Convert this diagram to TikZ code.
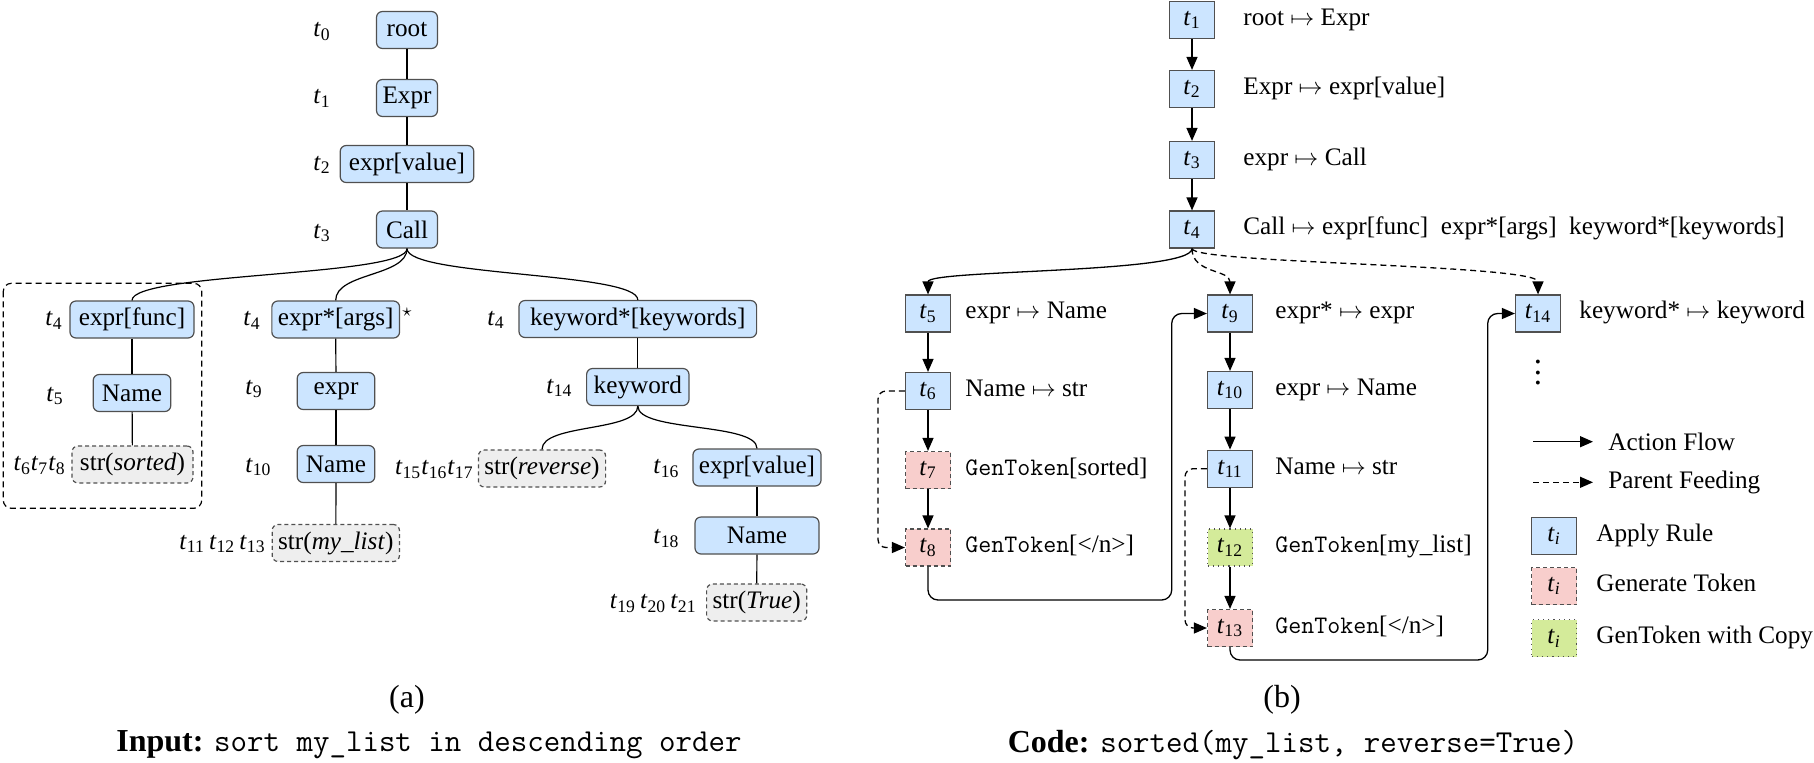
\documentclass[tikz,border=0pt]{standalone}
\usepackage{fontspec}
\setmainfont{Liberation Serif}
\usetikzlibrary{arrows.meta,calc}
\definecolor{rblue}{HTML}{CCE5FF}
\definecolor{rpink}{HTML}{F8CECC}
\definecolor{rgreen}{HTML}{D4EB9A}
\definecolor{rgray}{HTML}{EEEEEE}
\definecolor{rborder}{HTML}{505050}
\newcommand\ts[1]{\textit{t}\textsubscript{#1}}
\tikzset{
  tn/.style={draw=rborder, fill=rblue, rounded corners=3pt, line width=0.6pt, minimum height=18.5pt, inner xsep=3pt, inner ysep=0pt},
  sn/.style={tn, fill=rgray, dash pattern=on 2pt off 1.5pt},
  ab/.style={draw=rborder, fill=rblue, minimum width=22.5pt, minimum height=18.5pt, inner sep=0pt, line width=0.6pt},
  gb/.style={ab, fill=rpink, dash pattern=on 2pt off 1.5pt},
  cb/.style={ab, fill=rgreen, dotted},
  lab/.style={inner sep=0pt, anchor=base west},
  labe/.style={inner sep=0pt, anchor=base east},
  rule/.style={inner sep=0pt, anchor=base west},
  tl/.style={line width=0.6pt},
  af/.style={line width=0.65pt, -{Triangle[length=6.5pt,width=5.5pt]}},
  pf/.style={af, dash pattern=on 3pt off 2pt},
  captxt/.style={font=\fontsize{16}{19}\selectfont, inner sep=0pt}
}
\begin{document}
\begin{tikzpicture}[x=0.5pt, y=-0.5pt, font=\fontsize{12.6}{15}\selectfont]
\useasboundingbox (0,0) rectangle (1814,762);
% ---------------- (a) tree ----------------
\node[tn, minimum width=30.5pt] (root) at (407,30) {root};
\node[tn, minimum width=30.5pt] (Expr) at (407,98) {Expr};
\node[tn, minimum width=66.8pt] (ev) at (407,164) {expr[value]};
\node[tn, minimum width=30.5pt] (call) at (407,229.5) {Call};
\node[tn, minimum width=62pt] (ef) at (132,319.5) {expr[func]};
\node[tn, minimum width=38.8pt] (nm1) at (132,393) {Name};
\node[sn, minimum width=60.5pt] (s1) at (132.5,464.5) {str(\textit{sorted})};
\node[tn, minimum width=61.7pt] (ea) at (335.7,319.5) {expr*[args]};
\node[tn, minimum width=38.8pt] (e9) at (336,391) {expr};
\node[tn, minimum width=38.8pt] (nm2) at (336,464) {Name};
\node[sn, minimum width=61.5pt] (s2) at (335.8,543) {str(\textit{my\_list})};
\node[tn, minimum width=118.8pt] (kws) at (637.8,319) {keyword*[keywords]};
\node[tn, minimum width=51.2pt] (kw) at (637.8,387) {keyword};
\node[sn, minimum width=63pt] (s3) at (542,468.5) {str(\textit{reverse})};
\node[tn, minimum width=62pt] (ev2) at (757,467.5) {expr[value]};
\node[tn, minimum width=62pt] (nm3) at (757,535.5) {Name};
\node[sn, minimum width=49.4pt] (s4) at (756.7,602.5) {str(\textit{True})};
\node[font=\fontsize{9}{9}\selectfont, inner sep=0pt] (star) at (407,312) {$\star$};
% labels
\node[lab] (l0) at (313,0 |- root.base) {\ts{0}};
\node[lab] (l1) at (313,0 |- Expr.base) {\ts{1}};
\node[lab] (l2) at (313,0 |- ev.base) {\ts{2}};
\node[lab] (l3) at (313,0 |- call.base) {\ts{3}};
\node[lab] (l4a) at (45,0 |- ef.base) {\ts{4}};
\node[lab] (l5) at (46,0 |- nm1.base) {\ts{5}};
\node[labe] (l678) at (66,0 |- s1.base) {\ts{6}\ts{7}\ts{8}};
\node[lab] (l4b) at (243,0 |- ea.base) {\ts{4}};
\node[lab] (l9) at (245,0 |- e9.base) {\ts{9}};
\node[lab] (l10) at (245,0 |- nm2.base) {\ts{10}};
\node[labe] (l111213) at (266,0 |- s2.base) {\ts{11}\,\ts{12}\,\ts{13}};
\node[lab] (l4c) at (487,0 |- kws.base) {\ts{4}};
\node[lab] (l14) at (546,0 |- kw.base) {\ts{14}};
\node[labe] (l151617) at (474,0 |- s3.base) {\ts{15}\ts{16}\ts{17}};
\node[lab] (l16) at (653,0 |- ev2.base) {\ts{16}};
\node[lab] (l18) at (653,0 |- nm3.base) {\ts{18}};
\node[labe] (l192021) at (697,0 |- s4.base) {\ts{19}\,\ts{20}\,\ts{21}};
% tree edges
\draw[tl] (root) -- (Expr);
\draw[tl] (Expr) -- (ev);
\draw[tl] (ev) -- (call);
\draw[tl] (call.south) .. controls +(0,28) and +(0,-28) .. (ef.north);
\draw[tl] (call.south) .. controls +(0,28) and +(0,-28) .. (ea.north);
\draw[tl] (call.south) .. controls +(0,28) and +(0,-28) .. (kws.north);
\draw[tl] (ef) -- (nm1);
\draw[tl] (nm1) -- (s1);
\draw[tl] (ea) -- (e9);
\draw[tl] (e9) -- (nm2);
\draw[tl] (nm2) -- (s2);
\draw[tl] (kws) -- (kw);
\draw[tl] (kw.south) .. controls +(0,26) and +(0,-26) .. (s3.north);
\draw[tl] (kw.south) .. controls +(0,26) and +(0,-26) .. (ev2.north);
\draw[tl] (ev2) -- (nm3);
\draw[tl] (nm3) -- (s4);
\draw[line width=0.6pt, dash pattern=on 3pt off 2pt, rounded corners=4pt] (3.3,283.3) rectangle (201.7,508.3);
% ---------------- (b) actions ----------------
\node[ab] (r1) at (1192,20) {\ts{1}};
\node[ab] (r2) at (1192,89) {\ts{2}};
\node[ab] (r3) at (1192,160) {\ts{3}};
\node[ab] (r4) at (1192,229.5) {\ts{4}};
\node[ab] (r5) at (928,313.5) {\ts{5}};
\node[ab] (r6) at (928,391) {\ts{6}};
\node[gb] (r7) at (928,470) {\ts{7}};
\node[gb] (r8) at (928,547.5) {\ts{8}};
\node[ab] (r9) at (1230,313.5) {\ts{9}};
\node[ab] (r10) at (1230,390) {\ts{10}};
\node[ab] (r11) at (1230,468.7) {\ts{11}};
\node[cb] (r12) at (1230,547.5) {\ts{12}};
\node[gb] (r13) at (1230,628) {\ts{13}};
\node[ab] (r14) at (1538,313.5) {\ts{14}};
\node[rule] (x1) at (1243,0 |- r1.base) {root $\mapsto$ Expr};
\node[rule] (x2) at (1243,0 |- r2.base) {Expr $\mapsto$ expr[value]};
\node[rule] (x3) at (1243,0 |- r3.base) {expr $\mapsto$ Call};
\node[rule] (x4) at (1243,0 |- r4.base) {Call $\mapsto$ expr[func]\ \ expr*[args]\ \ keyword*[keywords]};
\node[rule] (x5) at (965,0 |- r5.base) {expr $\mapsto$ Name};
\node[rule] (x6) at (965,0 |- r6.base) {Name $\mapsto$ str};
\node[rule] (x7) at (965,0 |- r7.base) {\texttt{GenToken}[sorted]};
\node[rule] (x8) at (965,0 |- r8.base) {\texttt{GenToken}[</n>]};
\node[rule] (x9) at (1275,0 |- r9.base) {expr* $\mapsto$ expr};
\node[rule] (x10) at (1275,0 |- r10.base) {expr $\mapsto$ Name};
\node[rule] (x11) at (1275,0 |- r11.base) {Name $\mapsto$ str};
\node[rule] (x12) at (1275,0 |- r12.base) {\texttt{GenToken}[my\_list]};
\node[rule] (x13) at (1275,0 |- r13.base) {\texttt{GenToken}[</n>]};
\node[rule] (x14) at (1579,0 |- r14.base) {keyword* $\mapsto$ keyword};
\node[inner sep=0pt, scale=1.3] (vd) at (1538,365) {$\vdots$};
% arrows
\draw[af] (r1) -- (r2);
\draw[af] (r2) -- (r3);
\draw[af] (r3) -- (r4);
\draw[af] (r4.south) .. controls +(0,25) and +(0,-25) .. (r5.north);
\draw[pf] (r4.south) .. controls +(0,25) and +(0,-25) .. (r9.north);
\draw[pf] (r4.south) .. controls +(0,15) and +(0,-30) .. (r14.north);
\draw[af] (r5) -- (r6);
\draw[af] (r6) -- (r7);
\draw[af] (r7) -- (r8);
\coordinate (c68) at (878,470);
\draw[pf, rounded corners=4pt] (r6.west) -| (c68) |- (r8.west);
\coordinate (c89) at (1171.7,600);
\draw[af, rounded corners=5pt] (r8.south) |- (c89) |- (r9.west);
\draw[af] (r9) -- (r10);
\draw[af] (r10) -- (r11);
\draw[af] (r11) -- (r12);
\draw[af] (r12) -- (r13);
\coordinate (c1113) at (1185,550);
\draw[pf, rounded corners=4pt] (r11.west) -| (c1113) |- (r13.west);
\coordinate (c1314) at (1487.7,660);
\draw[af, rounded corners=5pt] (r13.south) |- (c1314) |- (r14.west);
% legend
\coordinate (la1) at (1533,441.7);
\coordinate (la2) at (1593,441.7);
\draw[af] (la1) -- (la2);
\node[anchor=west, inner sep=0pt] (lt1) at (1608,441.7) {Action Flow};
\coordinate (lb1) at (1533,482.3);
\coordinate (lb2) at (1593,482.3);
\draw[pf] (lb1) -- (lb2);
\node[anchor=west, inner sep=0pt] (lt2) at (1608,482.3) {Parent Feeding};
\node[ab] (g1) at (1554,535.8) {\ts{\textit{i}}};
\node[gb] (g2) at (1554,586) {\ts{\textit{i}}};
\node[cb] (g3) at (1554,638.3) {\ts{\textit{i}}};
\node[rule] (gt1) at (1596,0 |- g1.base) {Apply Rule};
\node[rule] (gt2) at (1596,0 |- g2.base) {Generate Token};
\node[rule] (gt3) at (1596,0 |- g3.base) {GenToken with Copy};
% captions
\node[captxt] (capa) at (407,700) {(a)};
\node[captxt] (capb) at (1282,700) {(b)};
\node[captxt] (inp) at (429,745) {\textbf{Input:} \texttt{sort my\_list in descending order}};
\node[captxt] (code) at (1293,745) {\textbf{Code:} \texttt{sorted(my\_list, reverse=True)}};
\end{tikzpicture}
\end{document}
